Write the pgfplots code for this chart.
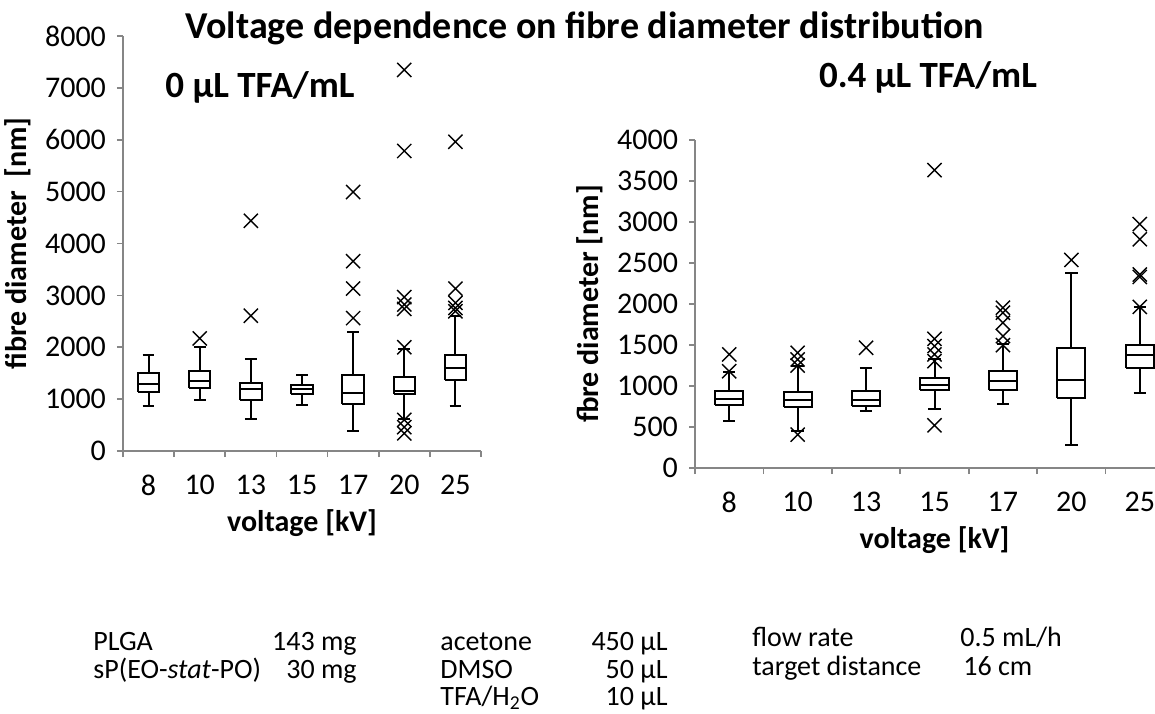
\documentclass[border=0pt]{standalone}
\usepackage{fontspec}
\setmainfont{Carlito}
\usepackage{pgfplots}
\pgfplotsset{compat=1.18}
\definecolor{axisgray}{RGB}{134,134,134}
\newcommand\ticksize{\fontsize{15}{18}\selectfont}
\newcommand\labsize{\fontsize{15}{18}\selectfont\bfseries}
\newcommand\titlesize{\fontsize{19}{22}\selectfont\bfseries}
\newcommand\subsize{\fontsize{18.5}{22}\selectfont\bfseries}
\pgfplotsset{
  myaxis/.style={
    scale only axis, anchor=south west,
    xmin=0.5, xmax=7.5, ymin=0, enlargelimits=false,
    axis lines=left, axis line style={-, draw=axisgray, line width=0.8pt},
    xtick={1,...,7}, xticklabels={8,10,13,15,17,20,25},
    minor xtick={0.5,1.5,...,7.5},
    major x tick style={draw=none},
    tick align=outside, tick style={draw=axisgray, line width=0.8pt},
    major tick length=3pt, minor tick length=3pt,
    ticklabel style={font=\ticksize},
    yticklabel style={xshift=-2pt},
    xticklabel style={yshift=-5.5pt},
    xlabel={voltage [kV]}, xlabel style={font=\labsize},
    ylabel style={font=\labsize},
    clip=false, unbounded coords=jump,
  },
  bx/.style={black, line width=1pt, solid, mark=none},
  outl/.style={black, only marks, mark=x, mark size=5pt, mark options={line width=0.7pt}},
}
% box: #1 position, #2 lower whisker, #3 lower quartile, #4 median, #5 upper quartile, #6 upper whisker
\newcommand\bxp[6]{%
  \pgfmathsetmacro\xa{#1-\bw}\pgfmathsetmacro\xb{#1+\bw}%
  \pgfmathsetmacro\ca{#1-\cw}\pgfmathsetmacro\cb{#1+\cw}%
  \edef\tmp{\noexpand\addplot[bx] coordinates {(\xa,#3) (\xb,#3) (\xb,#5) (\xa,#5) (\xa,#3) (#1,nan) (\xa,#4) (\xb,#4) (#1,nan) (#1,#5) (#1,#6) (#1,nan) (\ca,#6) (\cb,#6) (#1,nan) (#1,#3) (#1,#2) (#1,nan) (\ca,#2) (\cb,#2)};}%
  \tmp}
\begin{document}
\begin{tikzpicture}
\useasboundingbox (0pt,0pt) rectangle (577.5pt,-356.5pt);
\node[font=\titlesize] at (292.5pt,-14pt) {Voltage dependence on fibre diameter distribution};

% ---------- left: 0 uL TFA/mL ----------
\def\bw{0.21}\def\cw{0.115}
\begin{axis}[myaxis, at={(61.5pt,-225.5pt)}, width=179pt, height=207.5pt,
  ymax=8000, ytick={0,1000,...,8000},
  yticklabels={0,1000,2000,3000,4000,5000,6000,7000,8000},
  ylabel={fibre diameter\ \ [nm]}]
\bxp{1}{863}{1137}{1288}{1503}{1843}
\bxp{2}{993}{1222}{1353}{1549}{2007}
\bxp{3}{614}{993}{1190}{1320}{1778}
\bxp{4}{882}{1105}{1190}{1268}{1464}
\bxp{5}{386}{915}{1124}{1464}{2294}
\bxp{6}{620}{1105}{1157}{1431}{1960}
\bxp{7}{876}{1366}{1595}{1843}{2594}
\addplot[outl] coordinates {
  (2,2170)
  (3,4438) (3,2608)
  (5,4993) (5,3660) (5,3131) (5,2562)
  (6,7346) (6,5784) (6,2967) (6,2824) (6,2739) (6,2000) (6,600) (6,460) (6,340)
  (7,5961) (7,3131) (7,2856) (7,2758) (7,2693)
};
\end{axis}
\node[font=\subsize] at (130pt,-43.5pt) {0 µL TFA/mL};

% ---------- right: 0.4 uL TFA/mL ----------
\def\bw{0.205}\def\cw{0.09}
\begin{axis}[myaxis, at={(347.5pt,-234pt)}, width=239.5pt, height=164pt,
  ymax=4000, ytick={0,500,...,4000},
  yticklabels={0,500,1000,1500,2000,2500,3000,3500,4000},
  ylabel={fbre diameter [nm]}]
\bxp{1}{578}{774}{847}{937}{1173}
\bxp{2}{448}{741}{835}{929}{1242}
\bxp{3}{692}{753}{835}{937}{1222}
\bxp{4}{725}{949}{1018}{1092}{1324}
\bxp{5}{786}{957}{1059}{1181}{1507}
\bxp{6}{277}{855}{1071}{1462}{2383}
\bxp{7}{910}{1220}{1380}{1500}{1960}
\addplot[outl] coordinates {
  (1,1385) (1,1180)
  (2,1405) (2,1324) (2,1250) (2,407)
  (3,1466)
  (4,3633) (4,1576) (4,1487) (4,1385) (4,1303) (4,521)
  (5,1955) (5,1894) (5,1772) (5,1609) (5,1499)
  (6,2538)
  (7,2975) (7,2790) (7,2360) (7,2330) (7,1965)
};
\end{axis}
\node[font=\subsize] at (464pt,-38.5pt) {0.4 µL TFA/mL};

% ---------- composition text ----------
\begin{scope}[every node/.style={font=\fontsize{14}{17}\selectfont, inner sep=0pt}]
\node[anchor=base west] at (46.5pt,-325pt) {PLGA};
\node[anchor=base east] at (178.5pt,-325pt) {143 mg};
\node[anchor=base west] at (46.5pt,-339pt) {sP(EO-\textit{stat}-PO)};
\node[anchor=base east] at (178.5pt,-339pt) {30 mg};
\node[anchor=base west] at (220pt,-325pt) {acetone};
\node[anchor=base east] at (334pt,-325pt) {450 µL};
\node[anchor=base west] at (220pt,-339pt) {DMSO};
\node[anchor=base east] at (334pt,-339pt) {50 µL};
\node[anchor=base west] at (220pt,-352.5pt) {TFA/H\textsubscript{2}O};
\node[anchor=base east] at (334pt,-352.5pt) {10 µL};
\node[anchor=base west] at (376pt,-323pt) {flow rate};
\node[anchor=base west] at (480pt,-323pt) {0.5 mL/h};
\node[anchor=base west] at (376pt,-337.5pt) {target distance};
\node[anchor=base west] at (481.5pt,-337.5pt) {16 cm};
\end{scope}
\end{tikzpicture}
\end{document}
